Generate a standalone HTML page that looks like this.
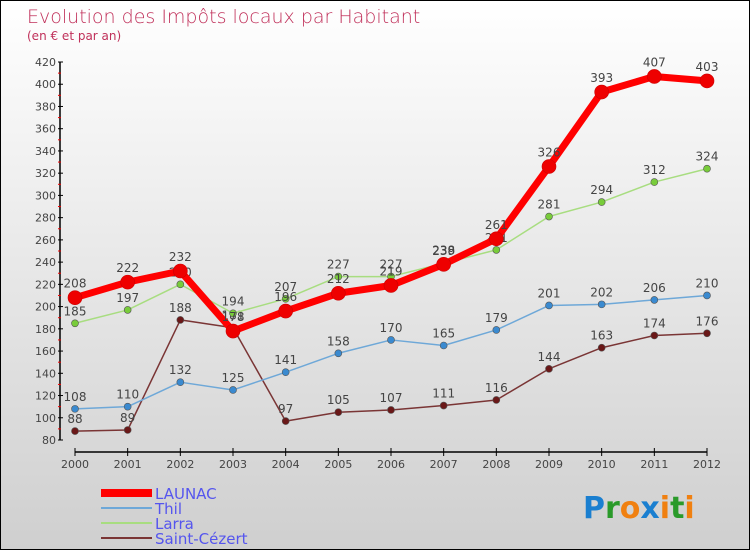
<!DOCTYPE html>
<html><head><meta charset="utf-8">
<style>
html,body{margin:0;padding:0;}
body{width:750px;height:550px;overflow:hidden;font-family:"DejaVu Sans","Liberation Sans",sans-serif;}
#wrap{position:relative;width:748px;height:548px;border:1px solid #000;background:linear-gradient(#ffffff,#cfcfcf);}
svg text{font-family:"DejaVu Sans","Liberation Sans",sans-serif;}
</style></head>
<body>
<div id="wrap">
<svg id="chart" width="748" height="548">
<text x="26" y="22" font-size="19" fill="#c0305a" font-weight="200">Evolution des Impôts locaux par Habitant</text>
<text x="26" y="39" font-size="12" fill="#c0305a">(en € et par an)</text>
<g id="axes"></g>
<g id="series"></g>
<g id="legend"></g>
<text x="582" y="517" font-size="30" font-weight="bold"><tspan fill="#1a7fd0">P</tspan><tspan fill="#2a9a2a">r</tspan><tspan fill="#f08010">o</tspan><tspan fill="#1a7fd0">x</tspan><tspan fill="#f08010">i</tspan><tspan fill="#2a9a2a">t</tspan><tspan fill="#f08010">i</tspan></text>
</svg>
</div>
<script>
const years = ["2000","2001","2002","2003","2004","2005","2006","2007","2008","2009","2010","2011","2012"];
const launac = [208,222,232,178,196,212,219,238,261,326,393,407,403];
const thil = [108,110,132,125,141,158,170,165,179,201,202,206,210];
const larra = [185,197,220,194,207,227,227,239,251,281,294,312,324];
const saintCezert = [88,89,188,181,97,105,107,111,116,144,163,174,176];
const yTicks = [80,100,120,140,160,180,200,220,240,260,280,300,320,340,360,380,400,420];

const NS="http://www.w3.org/2000/svg";
function xs(i){return 74+i*(632/12);}
function ys(v){return 439-(v-80)*(378/340);}
function mk(tag,attrs,parent){const e=document.createElementNS(NS,tag);for(const k in attrs)e.setAttribute(k,attrs[k]);parent.appendChild(e);return e;}
const axes=document.getElementById('axes');
const ax=mk('line',{x1:59,y1:ys(420),x2:59,y2:ys(80),stroke:'#000','stroke-width':1.5},axes);


yTicks.forEach((t,k)=>{
  const y=ys(t);
  mk('line',{x1:57,y1:y,x2:62,y2:y,stroke:'#000'},axes);
  const tx=mk('text',{x:55,y:y+4,'text-anchor':'end','font-size':11,fill:'#444'},axes);
  tx.textContent=t;
  
  
  if(k<yTicks.length-1) mk('line',{x1:57,y1:ys(t+10),x2:60,y2:ys(t+10),stroke:'#e00'},axes);
});
const xa=mk('line',{x1:xs(0),y1:451,x2:xs(12),y2:451,stroke:'#000','stroke-width':1.5},axes);


years.forEach((yr,i)=>{
  mk('line',{x1:xs(i),y1:447,x2:xs(i),y2:455,stroke:'#000'},axes);
  const tx=mk('text',{x:xs(i),y:467,'text-anchor':'middle','font-size':11,fill:'#444'},axes);
  tx.textContent=yr;
  
  
});
const series=[
 {name:'saint-cezert',vals:saintCezert,color:'#7a3535',dot:'#6a1818',w:1.5,r:3.5},
 {name:'larra',vals:larra,color:'#a8dd80',dot:'#78cc3a',w:1.5,r:3.5},
 {name:'thil',vals:thil,color:'#6ea8d8',dot:'#3a8ad0',w:1.5,r:3.5},
 {name:'launac',vals:launac,color:'#ff0000',dot:'#ee0000',w:7,r:7}
];
const sg=document.getElementById('series');
series.forEach(s=>{
  const g=mk('g',{},sg);
  
  
  const pts=s.vals.map((v,i)=>xs(i)+','+ys(v)).join(' ');
  const pl=mk('polyline',{points:pts,fill:'none',stroke:s.color,'stroke-width':s.w,'stroke-linejoin':'round'},g);
  
  
  s.vals.forEach((v,i)=>{
    const c=mk('circle',{cx:xs(i),cy:ys(v),r:s.r,fill:s.dot,stroke:s.r>5?'#c00':'#555','stroke-width':0.6},g);
    
    
    const t=mk('text',{x:xs(i),y:ys(v)-(s.r>5?10:8),'text-anchor':'middle','font-size':12,fill:'#444'},g);
    t.textContent=v;
    
    
  });
});
const leg=document.getElementById('legend');
const items=[['LAUNAC','#ff0000',8],['Thil','#6ea8d8',2],['Larra','#a8dd80',2],['Saint-Cézert','#7a3535',2]];
items.forEach((it,k)=>{
  const y=492+k*15;
  const g=mk('g',{},leg);
  
  
  mk('line',{x1:100,y1:y,x2:151,y2:y,stroke:it[1],'stroke-width':it[2]},g);
  const t=mk('text',{x:154,y:y+6,'font-size':15,fill:'#5555ee'},g);
  t.textContent=it[0];
  
  
});
</script>
</body></html>
